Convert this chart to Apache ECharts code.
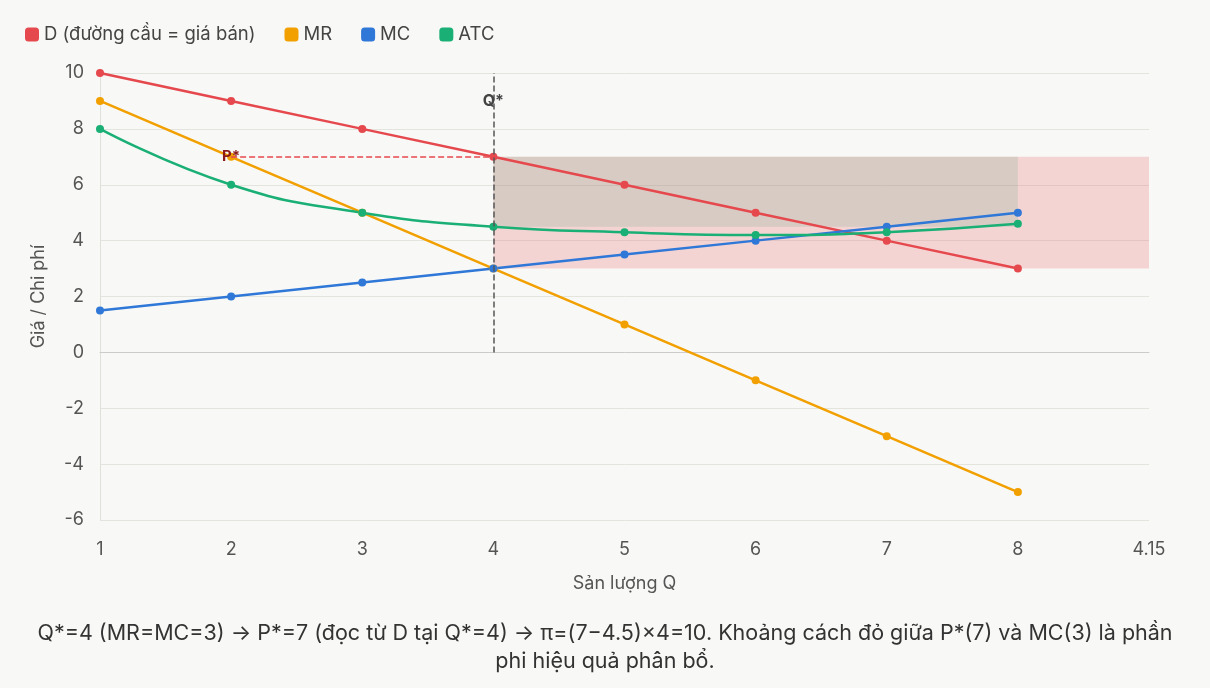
<!DOCTYPE html>
<html><head><meta charset="utf-8">
<script src="https://cdn.jsdelivr.net/npm/echarts@6/dist/echarts.min.js"></script>
<style>html,body{margin:0;padding:0;background:#f8f8f6;}#c{width:1210px;height:688px;}</style>
</head><body><div id="c"></div>
<script>
const categories = ['1','2','3','4','5','6','7','8','4.15'];
const demand = [10, 9, 8, 7, 6, 5, 4, 3];
const mr = [9, 7, 5, 3, 1, -1, -3, -5];
const mc = [1.5, 2, 2.5, 3, 3.5, 4, 4.5, 5];
const atc = [8, 6, 5, 4.5, 4.3, 4.2, 4.3, 4.6];
const yTicks = {min: -6, max: 10, interval: 2};
const qStar = '4', pStar = 7, mcStar = 3, atcStar = 4.5;
const note = 'Q*=4 (MR=MC=3) → P*=7 (đọc từ D tại Q*=4) → π=(7−4.5)×4=10. Khoảng cách đỏ giữa P*(7) và MC(3) là phần\nphi hiệu quả phân bổ.';

const FONT = 'Inter, "Noto Sans", sans-serif';
const chart = echarts.init(document.getElementById('c'));
const lineBase = {type: 'line', symbol: 'circle', symbolSize: 8, lineStyle: {width: 2.5}};
chart.setOption({
  backgroundColor: '#f8f8f6',
  textStyle: {fontFamily: FONT},
  color: ['#e5484d', '#f2a000', '#2f78d8', '#1aaf75'],
  legend: {
    left: 20, top: 20, icon: 'roundRect', itemWidth: 14, itemHeight: 14, itemGap: 29,
    textStyle: {fontSize: 18.5, color: '#444', fontFamily: FONT}
  },
  grid: {left: 100, right: 61, top: 73, bottom: 168},
  xAxis: {
    type: 'category', data: categories, boundaryGap: false,
    name: 'Sản lượng Q', nameLocation: 'middle', nameGap: 55,
    nameTextStyle: {fontSize: 18, color: '#555'},
    axisLine: {lineStyle: {color: '#ccc'}}, axisTick: {show: false},
    axisLabel: {fontSize: 18, color: '#555', margin: 21}
  },
  yAxis: {
    type: 'value', min: yTicks.min, max: yTicks.max, interval: yTicks.interval,
    name: 'Giá / Chi phí', nameLocation: 'middle', nameGap: 52,
    nameTextStyle: {fontSize: 18, color: '#555'},
    axisLine: {show: true, lineStyle: {color: '#e0e0da'}},
    splitLine: {lineStyle: {color: '#e4e4de'}},
    axisLabel: {fontSize: 18, color: '#555', margin: 16}
  },
  series: [
    Object.assign({}, lineBase, {name: 'D (đường cầu = giá bán)', data: demand,
      markLine: {symbol: 'none', silent: true, label: {show: false},
        lineStyle: {type: 'dashed', color: '#e5484d', width: 1.5},
        data: [[{coord: ['2', pStar]}, {coord: [qStar, pStar]}]]},
      markPoint: {symbol: 'circle', symbolSize: 0, silent: true,
        data: [{coord: ['2', pStar], label: {show: true, formatter: 'P*', color: '#8b1a1a', fontWeight: 'bold', fontSize: 15, position: 'inside'}}]}
    }),
    Object.assign({}, lineBase, {name: 'MR', data: mr}),
    Object.assign({}, lineBase, {name: 'MC', data: mc,
      markLine: {symbol: 'none', silent: true, label: {show: false},
        lineStyle: {type: 'dashed', color: '#555', width: 1.5},
        data: [[{coord: [qStar, 0]}, {coord: [qStar, 10]}]]},
      markPoint: {symbol: 'circle', symbolSize: 0, silent: true,
        data: [{coord: [qStar, 9], label: {show: true, formatter: 'Q*', color: '#444', fontWeight: 'bold', fontSize: 16, position: 'inside'}}]}
    }),
    Object.assign({}, lineBase, {name: 'ATC', data: atc, smooth: true,
      markArea: {silent: true, data: [
        [{coord: [qStar, pStar], itemStyle: {color: 'rgba(229,72,77,0.2)'}}, {coord: ['4.15', mcStar]}],
        [{coord: [qStar, pStar], itemStyle: {color: 'rgba(105,168,136,0.2)'}}, {coord: ['8', atcStar]}]
      ]}
    })
  ],
  graphic: [{
    type: 'text', left: 'center', top: 620,
    style: {text: note, fontSize: 21.5, fill: '#333', fontFamily: FONT, textAlign: 'center', lineHeight: 28}
  }]
});
</script></body></html>
